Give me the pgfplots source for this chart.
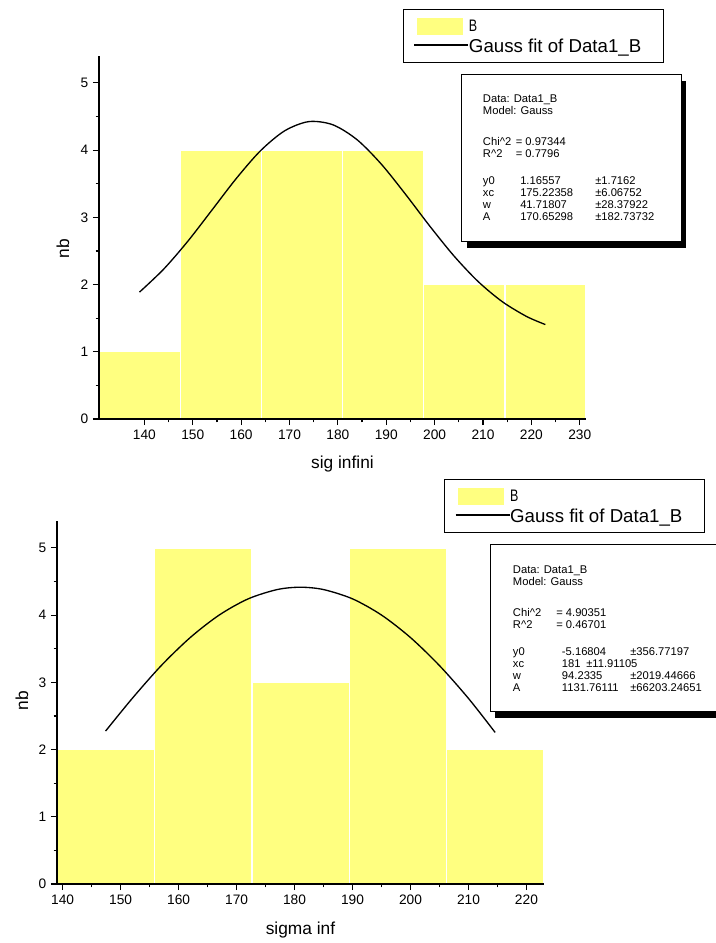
\documentclass[border=0pt]{standalone}
\usepackage{fontspec}
\setmainfont{Liberation Sans}
\usepackage{graphicx}
\usepackage{pgfplots}
\pgfplotsset{compat=1.18}
\definecolor{barY}{RGB}{255,255,128}

\pgfplotsset{
  originstyle/.style={
    scale only axis, width=365.25pt, height=272.25pt,
    ymin=0, ymax=5.4,
    axis x line*=bottom, axis y line*=left,
    axis line style={-, line width=1.1pt},
    tick align=outside,
    major tick length=4.5pt, minor tick length=2.6pt,
    tick style={black, line width=0.9pt},
    ytick={0,1,2,3,4,5}, minor y tick num=1,
    minor x tick num=1,
    tick label style={font=\fontsize{10.3}{12}\selectfont},
    /pgf/number format/assume math mode=true,
    label style={font=\fontsize{13}{15}\selectfont},
    axis on top,
    clip=false,
    legend cell align=left,
    legend style={draw=black, line width=1pt, inner xsep=7.5pt, inner ysep=6.5pt,
      row sep=3pt, anchor=north west, nodes={inner sep=0pt}, fill=white},
  },
}

\begin{document}
\begin{tikzpicture}
\path[use as bounding box] (0,0) rectangle (536.25pt,-707.25pt);

% ---------------- top chart ----------------
\begin{axis}[originstyle,
  at={(74.25pt,-314.25pt)}, anchor=south west,
  xmin=130.62, xmax=231.30,
  xtick={140,150,...,230},
  xlabel={sig infini}, ylabel={nb},
  xlabel style={at={(axis description cs:0.5,-0.125)}, anchor=center},
  ylabel style={at={(axis description cs:-0.074,0.47)}, anchor=center},
  legend style={at={(axis description cs:0.6242,1.1295)}},
]
\addplot[ybar interval, fill=barY, draw=white, line width=1pt,
  legend image code/.code={\fill[barY] (2.25pt,-5.6pt) rectangle (36pt,5.6pt);}]
  coordinates {(130.62,1) (147.40,4) (164.18,4) (180.96,4) (197.74,2) (214.52,2) (231.30,2)};
\addlegendentry{\scalebox{0.75}[1]{\fontsize{12.5}{14}\selectfont B}}
\addplot[smooth, black, line width=1pt,
  legend image code/.code={\draw[black, line width=1pt] (0pt,1pt) -- (40.5pt,1pt);}]
  coordinates {(139,1.888) (144,2.230) (149,2.646) (154,3.111) (159,3.578) (164,3.990)
   (169,4.287) (174,4.424) (179,4.376) (184,4.153) (189,3.790) (194,3.342) (199,2.870)
   (204,2.426) (209,2.045) (214,1.745) (219,1.526) (222.9,1.405)};
\addlegendentry{\fontsize{14}{16}\selectfont Gauss fit of Data1\_B\hspace*{9pt}}
\end{axis}

% ---------------- bottom chart ----------------
\begin{axis}[originstyle,
  at={(42.75pt,-663pt)}, anchor=south west,
  xmin=139.02, xmax=223.03,
  xtick={140,150,...,220},
  xlabel={sigma inf}, ylabel={nb},
  xlabel style={at={(axis description cs:0.5,-0.127)}, anchor=center},
  ylabel style={at={(axis description cs:-0.072,0.505)}, anchor=center},
  legend style={at={(axis description cs:0.795,1.116)}},
]
\addplot[ybar interval, fill=barY, draw=white, line width=1pt,
  legend image code/.code={\fill[barY] (2.25pt,-5.6pt) rectangle (36pt,5.6pt);}]
  coordinates {(139.02,2) (155.83,5) (172.63,3) (189.43,5) (206.23,2) (223.03,2)};
\addlegendentry{\scalebox{0.75}[1]{\fontsize{12.5}{14}\selectfont B}}
\addplot[smooth, black, line width=1pt,
  legend image code/.code={\draw[black, line width=1pt] (0pt,1pt) -- (40.5pt,1pt);}]
  coordinates {(147.4,2.275) (152,2.761) (157,3.249) (162,3.666) (167,4.001) (172,4.242)
   (177,4.380) (181,4.415) (185,4.380) (190,4.242) (195,4.001) (200,3.666) (205,3.249)
   (210,2.761) (214.6,2.255)};
\addlegendentry{\fontsize{14}{16}\selectfont Gauss fit of Data1\_B\hspace*{9pt}}
\end{axis}

% ---------------- fit parameter boxes ----------------
\begin{scope}[x=0.75pt, y=-0.75pt,
  every node/.style={anchor=base west, inner sep=0pt, font=\fontsize{8.4}{10}\selectfont}]
  % top box
  \fill[black] (466.7,81) rectangle (686,248);
  \filldraw[fill=white, draw=black, line width=0.75pt] (461.7,74) rectangle (681,241);
  \node at (482.7,102) {Data: Data1\_B};
  \node at (482.7,114.5) {Model: Gauss};
  \node at (482.7,145) {Chi\textasciicircum 2};
  \node at (515.5,145) {= 0.97344};
  \node at (482.7,157) {R\textasciicircum 2};
  \node at (515.5,157) {= 0.7796};
  \node at (482.7,184.5) {y0};  \node at (520,184.5) {1.16557};   \node at (595,184.5) {±1.7162};
  \node at (482.7,196.5) {xc};  \node at (520,196.5) {175.22358}; \node at (595,196.5) {±6.06752};
  \node at (482.7,208.5) {w};   \node at (520,208.5) {41.71807};  \node at (595,208.5) {±28.37922};
  \node at (482.7,220.5) {A};   \node at (520,220.5) {170.65298}; \node at (595,220.5) {±182.73732};
  % bottom box
  \fill[black] (495,551) rectangle (760,718);
  \filldraw[fill=white, draw=black, line width=0.75pt] (490,544) rectangle (755,711);
  \node at (512.7,573) {Data: Data1\_B};
  \node at (512.7,585.5) {Model: Gauss};
  \node at (512.7,616) {Chi\textasciicircum 2};
  \node at (556,616) {= 4.90351};
  \node at (512.7,628) {R\textasciicircum 2};
  \node at (556,628) {= 0.46701};
  \node at (512.7,655) {y0};  \node at (561.7,655) {-5.16804};   \node at (630,655) {±356.77197};
  \node at (512.7,667) {xc};  \node at (561.7,667) {181}; \node at (586,667) {±11.91105};
  \node at (512.7,679) {w};   \node at (561.7,679) {94.2335};  \node at (630,679) {±2019.44666};
  \node at (512.7,691) {A};   \node at (561.7,691) {1131.76111}; \node at (630,691) {±66203.24651};
\end{scope}
\end{tikzpicture}
\end{document}
